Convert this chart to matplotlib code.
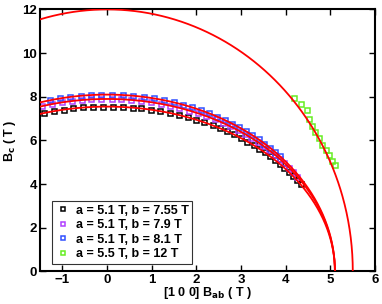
import numpy as np
import matplotlib
matplotlib.use("Agg")
import matplotlib.pyplot as plt

plt.rcParams['font.family'] = ['Liberation Sans', 'DejaVu Sans']
plt.rcParams['font.weight'] = 'bold'

# ellipse fit parameters (a, b) in T
fit_a = [5.1, 5.1, 5.1, 5.5]
fit_b = [7.55, 7.9, 8.1, 12.0]

labels = ['a = 5.1 T, b = 7.55 T', 'a = 5.1 T, b = 7.9 T',
          'a = 5.1 T, b = 8.1 T', 'a = 5.5 T, b = 12 T']
colors = ['black', '#b040ff', '#3050ff', '#66ee22']

x_black = [-1.41, -1.19, -0.97, -0.76, -0.54, -0.31, -0.09, 0.13, 0.36, 0.57,
           0.76, 0.98, 1.19, 1.40, 1.60, 1.80, 1.99, 2.18, 2.36, 2.53, 2.69,
           2.83, 2.99, 3.14, 3.28, 3.41, 3.53, 3.65, 3.76, 3.87, 3.97, 4.07,
           4.16, 4.25, 4.33]
y_black = [7.26, 7.34, 7.41, 7.47, 7.51, 7.54, 7.55, 7.55, 7.53, 7.50,
           7.47, 7.41, 7.34, 7.26, 7.17, 7.06, 6.95, 6.83, 6.69, 6.56, 6.41,
           6.28, 6.12, 5.95, 5.78, 5.61, 5.45, 5.27, 5.10, 4.92, 4.74, 4.55,
           4.37, 4.17, 3.99]

x_mag = [-1.45, -1.23, -1.01, -0.79, -0.57, -0.35, -0.13, 0.10, 0.32, 0.54,
         0.76, 0.98, 1.20, 1.41, 1.62, 1.83, 2.03, 2.22, 2.41, 2.59, 2.76,
         2.92, 3.08, 3.23, 3.37, 3.50, 3.63, 3.75, 3.86, 3.97, 4.07, 4.17, 4.26]
y_mag = [7.57, 7.67, 7.74, 7.80, 7.85, 7.88, 7.90, 7.90, 7.88, 7.86,
         7.81, 7.75, 7.68, 7.59, 7.49, 7.37, 7.25, 7.11, 6.96, 6.81, 6.64,
         6.48, 6.30, 6.11, 5.93, 5.75, 5.55, 5.35, 5.16, 4.96, 4.76, 4.55, 4.34]

x_blue = [-1.28, -1.05, -0.82, -0.59, -0.36, -0.13, 0.11, 0.35, 0.59, 0.83,
          1.05, 1.28, 1.49, 1.71, 1.91, 2.10, 2.29, 2.47, 2.64, 2.80, 2.96,
          3.11, 3.25, 3.39, 3.52, 3.64, 3.76, 3.87]
y_blue = [7.84, 7.93, 7.99, 8.05, 8.08, 8.10, 8.10, 8.08, 8.05, 7.99,
          7.93, 7.84, 7.75, 7.63, 7.51, 7.38, 7.24, 7.09, 6.93, 6.77, 6.60,
          6.42, 6.24, 6.05, 5.86, 5.67, 5.47, 5.28]

x_green = [4.19, 4.34, 4.47, 4.51, 4.59, 4.66, 4.75, 4.82, 4.90, 4.97, 5.03, 5.11]
y_green = [7.95, 7.69, 7.38, 6.99, 6.65, 6.38, 6.09, 5.81, 5.57, 5.32, 5.08, 4.86]

fig = plt.figure(figsize=(3.82, 3.04), dpi=100)
ax = fig.add_axes([0.105, 0.107, 0.877, 0.862])

series = [(x_black, y_black), (x_mag, y_mag), (x_blue, y_blue), (x_green, y_green)]
for (xs, ys), c, lab in zip(series, colors, labels):
    ax.plot(xs, ys, 's', mfc='none', mec=c, ms=3.6, mew=1.1, label=lab, zorder=2)

# fitted ellipses
for a, b in zip(fit_a, fit_b):
    t = np.linspace(0, np.arccos(-1.5 / a), 400)
    ax.plot(a * np.cos(t), b * np.sin(t), '-', color='red', lw=1.3, zorder=3)

ax.set_xlim(-1.5, 6)
ax.set_ylim(0, 12)
ax.set_xticks(range(-1, 7))
ax.set_yticks(range(0, 13, 2))
ax.set_xticklabels(['\u22121', '0', '1', '2', '3', '4', '5', '6'])
ax.tick_params(direction='in', top=True, right=True, length=4, width=1,
               labelsize=9.5, pad=2)
for s in ax.spines.values():
    s.set_linewidth(1.5)

ax.set_xlabel('[1 0 0] B$_{\\mathbf{ab}}$ ( T )', fontsize=9, fontweight='bold', labelpad=-1)
ax.set_ylabel('B$_{\\mathbf{c}}$ ( T )', fontsize=9, fontweight='bold', labelpad=3)

leg = ax.legend(loc='lower left', bbox_to_anchor=(0.017, 0.005), fontsize=9,
                frameon=True, fancybox=False, edgecolor='black', handlelength=1.1,
                handletextpad=0.5, borderpad=0.3, labelspacing=0.2, markerscale=0.8)
leg.get_frame().set_linewidth(0.8)
for t in leg.get_texts():
    t.set_fontweight('bold')

fig.savefig('out.png', dpi=100)
